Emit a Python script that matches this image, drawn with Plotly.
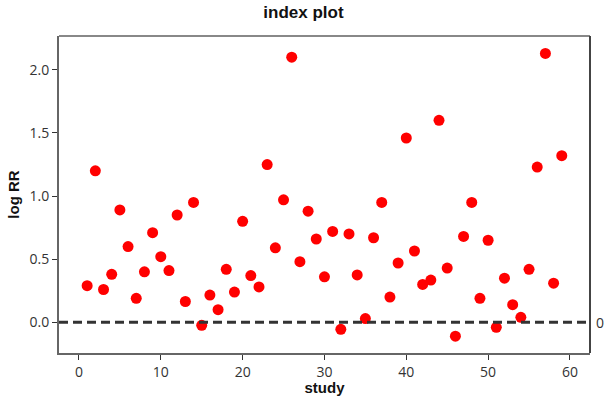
import plotly.graph_objects as go

study = list(range(1, 60))
log_rr = [0.29, 1.20, 0.26, 0.38, 0.89, 0.60, 0.19, 0.40, 0.71, 0.52,
          0.41, 0.85, 0.165, 0.95, -0.024, 0.216, 0.10, 0.42, 0.24, 0.80,
          0.37, 0.28, 1.25, 0.59, 0.97, 2.10, 0.48, 0.88, 0.66, 0.36,
          0.72, -0.055, 0.70, 0.375, 0.03, 0.67, 0.95, 0.20, 0.47, 1.46,
          0.565, 0.30, 0.335, 1.60, 0.43, -0.11, 0.68, 0.95, 0.19, 0.65,
          -0.04, 0.35, 0.14, 0.04, 0.42, 1.23, 2.13, 0.31, 1.32]
x_ticks = [0, 10, 20, 30, 40, 50, 60]
y_ticks = [0.0, 0.5, 1.0, 1.5, 2.0]
ref_value = 0

fig = go.Figure()
fig.add_trace(go.Scatter(x=study, y=log_rr, mode="markers",
                         marker=dict(color="#ff0000", size=11, line=dict(width=0)),
                         showlegend=False, hoverinfo="x+y"))

fig.add_shape(type="line", xref="paper", yref="y", x0=0, x1=1, y0=ref_value, y1=ref_value,
              line=dict(color="#333333", width=3, dash="9px,5px"))
fig.add_shape(type="line", xref="paper", yref="paper", x0=0, x1=1, y0=1, y1=1,
              line=dict(color="#888888", width=2))
fig.add_shape(type="line", xref="paper", yref="paper", x0=1, x1=1, y0=0, y1=1,
              line=dict(color="#444444", width=2))
fig.add_annotation(xref="paper", yref="y", x=1, y=ref_value, text=str(ref_value),
                   showarrow=False, xanchor="left", xshift=4,
                   font=dict(family="Open Sans", size=14, color="#333333"))

fig.update_layout(
    width=607, height=396,
    margin=dict(l=59, r=17, t=36, b=43),
    plot_bgcolor="white", paper_bgcolor="white",
    title=dict(text="<b>index plot</b>", x=0.5, xanchor="center", y=0.985, yanchor="top",
               font=dict(family="Liberation Sans", size=17, color="#111111")),
    xaxis=dict(range=[-2.44, 62.45], tickvals=x_ticks, showgrid=False, zeroline=False,
               showline=True, linecolor="#666666", linewidth=2, automargin=False,
               ticks="outside", ticklen=5, tickcolor="#333333",
               tickfont=dict(family="Open Sans", size=14, color="#333333"),
               title=dict(text="<b>study</b>", standoff=2,
                          font=dict(family="Liberation Sans", size=15, color="#111111"))),
    yaxis=dict(range=[-0.243, 2.268], tickvals=y_ticks, tickformat=".1f", showgrid=False,
               zeroline=False, showline=True, linecolor="#666666", linewidth=2, automargin=False,
               ticks="outside", ticklen=5, tickcolor="#333333",
               tickfont=dict(family="Open Sans", size=14, color="#333333"),
               title=dict(text="<b>log RR</b>", standoff=6,
                          font=dict(family="Liberation Sans", size=15, color="#111111"))),
)

fig.write_html("out.html")
